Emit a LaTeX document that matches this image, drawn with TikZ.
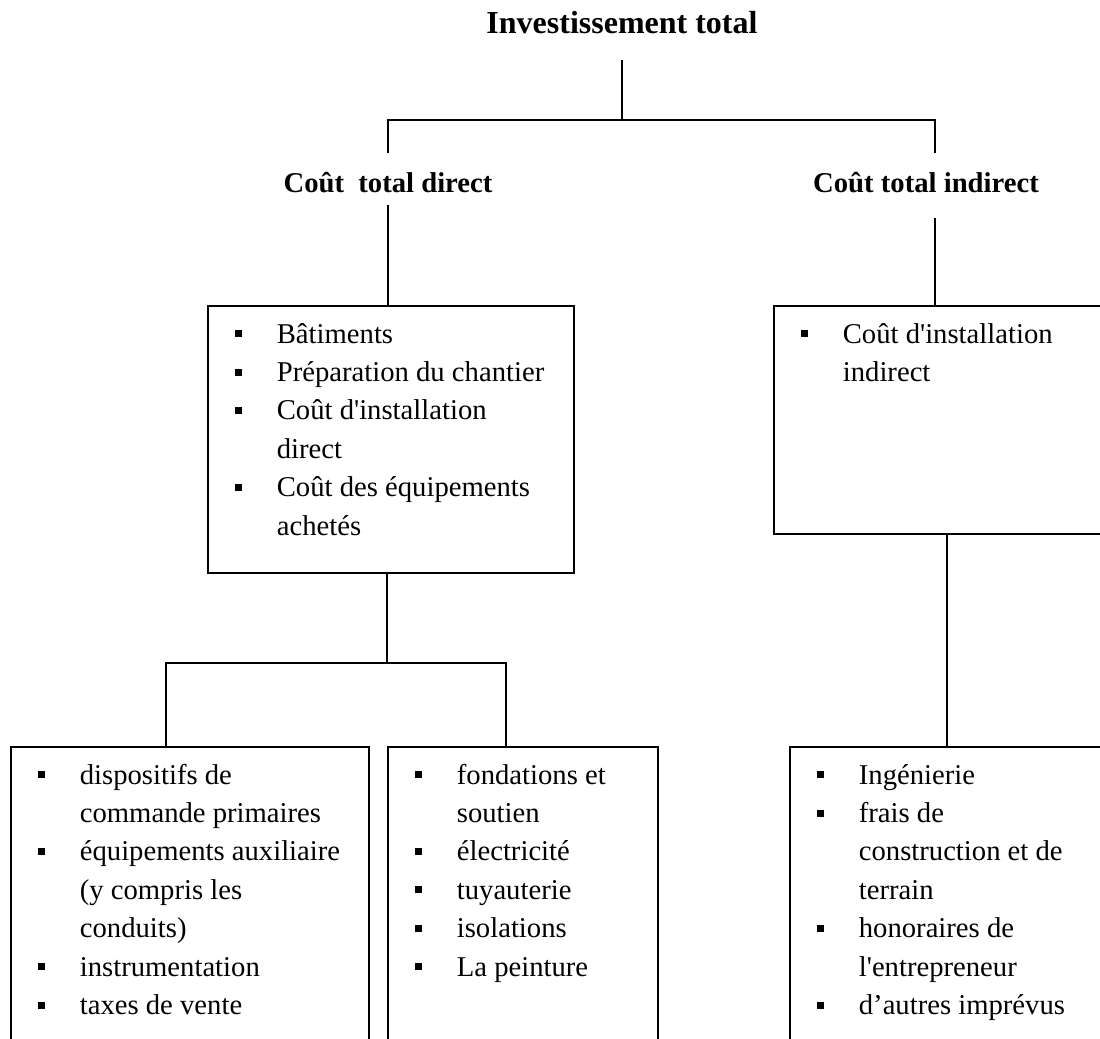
\documentclass[tikz,border=0pt]{standalone}
\usepackage{fontspec}
\setmainfont{Liberation Serif}[Ligatures=TeXOff]
\usepackage{tikz}

\newcommand{\puce}{\raisebox{4.5pt}{\rule{5.25pt}{5.25pt}}}
\newcommand{\liste}[3]{\parbox[t][#2][t]{#1}{\fontsize{21.5pt}{28.8pt}\selectfont
  \vspace*{7.8pt}\begin{tabular}{@{\hspace{20.25pt}}p{31.5pt}@{}l@{}}#3\end{tabular}}}

\begin{document}
\begin{tikzpicture}[
  x=0.75pt, y=-0.75pt,
  titre/.style={font=\fontsize{24pt}{28pt}\selectfont\bfseries, anchor=base,
                inner sep=0pt, text depth=20.25pt},
  entete/.style={font=\fontsize{21.5pt}{26pt}\selectfont\bfseries, anchor=base,
                 inner sep=0pt, text height=29.25pt, text depth=9.75pt},
  boite/.style={draw, line width=1.3pt, inner sep=0pt, anchor=north west},
  lien/.style={line width=1.3pt}
]
\useasboundingbox (0,0) rectangle (1100,1039);
\clip (0,0) rectangle (1100,1039);

\node[titre] (titre) at (622,33) {Investissement total};
\node[entete] (direct) at (388,192) {Coût\ \ total direct};
\node[entete, text depth=19.5pt] (indirect) at (926,192) {Coût total indirect};

\node[boite] (bdirect) at (207,305) {\liste{274.5pt}{200.25pt}{%
  \puce & Bâtiments\\
  \puce & Préparation du chantier\\
  \puce & Coût d'installation\\
        & direct\\
  \puce & Coût des équipements\\
        & achetés}};
\node[boite] (bindirect) at (773,305) {\liste{259.5pt}{171pt}{%
  \puce & Coût d'installation\\
        & indirect}};

\node[boite] (b1) at (10,746) {\liste{268.5pt}{242.25pt}{%
  \puce & dispositifs de\\
        & commande primaires\\
  \puce & équipements auxiliaire\\
        & (y compris les\\
        & conduits)\\
  \puce & instrumentation\\
  \puce & taxes de vente}};
\node[boite] (b2) at (387,746) {\liste{202.5pt}{242.25pt}{%
  \puce & fondations et\\
        & soutien\\
  \puce & électricité\\
  \puce & tuyauterie\\
  \puce & isolations\\
  \puce & La peinture}};
\node[boite] (b3) at (789,746) {\liste{236.25pt}{242.25pt}{%
  \puce & Ingénierie\\
  \puce & frais de\\
        & construction et de\\
        & terrain\\
  \puce & honoraires de\\
        & l'entrepreneur\\
  \puce & d’autres imprévus}};

% branches du haut
\coordinate (f0) at (622,120);
\coordinate (f1) at (935,120);
\draw[lien] (titre.south) -- (f0);
\draw[lien] (direct.north) |- (f0) -| (f1 |- indirect.north);
\draw[lien] (direct.south) -- (direct.south |- bdirect.north);
\draw[lien] (f1 |- indirect.south) -- (f1 |- bindirect.north);

% branches du bas
\coordinate (g0) at (387,663);
\coordinate (g1) at (166,663);
\coordinate (g2) at (506,663);
\draw[lien] (g0 |- bdirect.south) -- (g0);
\draw[lien] (g1 |- b1.north) |- (g2) -- (g2 |- b2.north);
\draw[lien] (bindirect.south) -- (bindirect.south |- b3.north);
\end{tikzpicture}
\end{document}
